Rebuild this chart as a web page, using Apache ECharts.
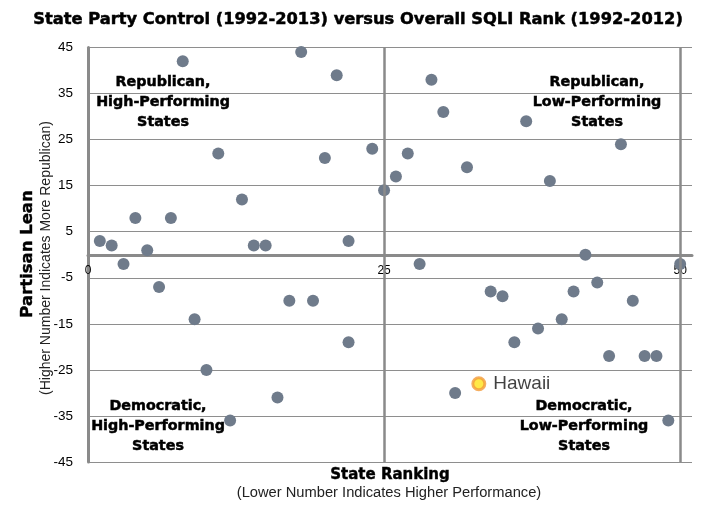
<!DOCTYPE html>
<html>
<head>
<meta charset="utf-8">
<script src="https://cdn.jsdelivr.net/npm/echarts@6/dist/echarts.min.js"></script>
<style>
html,body{margin:0;padding:0;background:#fff;}
#chart{width:707px;height:513px;}
</style>
</head>
<body>
<div id="chart"></div>
<script>
// SQLI rank (x) and partisan lean (y) for each state
const stateRank = [1,2,3,4,5,6,7,8,9,10,11,12,13,14,15,16,17,18,19,20,21,22,22,24,25,26,27,28,29,30,31,32,34,35,36,37,38,39,40,41,42,43,44,45,46,47,48,49,50];
const partisanLean = [3,2,-2,8,1,-7,8,42,-14,-25,22,-36,12,2,2,-31,-10,44,-10,21,39,3,-19,23,14,17,22,-2,38,31,-30,19,-8,-9,-19,29,-16,16,-14,-8,0,-6,-22,24,-10,-22,-22,-36,-2];
const hawaiiRank = [33];
const hawaiiLean = [-28];
const hawaiiName = ['Hawaii'];
const xTicks = [0, 25, 50];
const quadrantDividers = [25, 50];

const X_MIN = 0, X_MAX = 51, Y_MIN = -45, Y_MAX = 45;
const GRID = {left: 88, right: 15, top: 47.5, bottom: 51};
const H = 513;
const plotH = H - GRID.top - GRID.bottom;
// move the x axis (line + labels) up to y = 0
const xAxisOffset = -plotH * (0 - Y_MIN) / (Y_MAX - Y_MIN);

const pts = stateRank.map((r, i) => [r, partisanLean[i]]);
const hiPts = hawaiiRank.map((r, i) => [r, hawaiiLean[i], hawaiiName[i]]);

const chart = echarts.init(document.getElementById('chart'));
const BOLD = '"DejaVu Sans"';

chart.setOption({
  animation: false,
  backgroundColor: '#fff',
  grid: Object.assign({containLabel: false}, GRID),
  xAxis: {
    type: 'value', min: X_MIN, max: X_MAX, interval: 25,
    position: 'bottom', offset: xAxisOffset,
    axisLine: {show: true, onZero: false, lineStyle: {color: '#8a8a8a', width: 3}},
    axisTick: {show: false},
    splitLine: {show: false},
    axisLabel: {
      showMaxLabel: false, margin: 10, fontSize: 12, color: '#000',
      fontFamily: 'Liberation Sans',
      formatter: v => (xTicks.indexOf(v) >= 0 ? String(v) : '')
    }
  },
  yAxis: {
    type: 'value', min: Y_MIN, max: Y_MAX, interval: 10,
    axisLine: {show: true, onZero: false, lineStyle: {color: '#8a8a8a', width: 3}},
    axisTick: {show: false},
    splitLine: {show: true, lineStyle: {color: '#8e8e8e', width: 1}},
    axisLabel: {margin: 15, fontSize: 13.5, color: '#000', fontFamily: 'Liberation Sans'}
  },
  series: [
    {
      type: 'scatter',
      data: pts,
      symbolSize: 12,
      itemStyle: {color: '#6f7b8b', opacity: 1},
      markLine: {
        silent: true, symbol: 'none', label: {show: false},
        lineStyle: {color: '#8a8a8a', width: 2.5, type: 'solid'},
        data: quadrantDividers.map(v => ({xAxis: v}))
      },
      z: 3
    },
    {
      type: 'scatter',
      data: hiPts,
      symbolSize: 12,
      itemStyle: {color: '#ffe21a', borderColor: '#f39a3a', borderWidth: 3},
      label: {
        show: true, position: 'right', distance: 7,
        formatter: p => p.data[2],
        fontSize: 19, color: '#111', fontFamily: 'Liberation Sans'
      },
      z: 4
    }
  ],
  graphic: [
    {type: 'text', x: 358, y: 20, style: {text: 'State Party Control (1992-2013) versus Overall SQLI Rank (1992-2012)', font: 'bold 16.3px ' + BOLD, textAlign: 'center', textVerticalAlign: 'middle', fill: '#000', stroke: '#000', lineWidth: 0.5}},
    {type: 'text', x: 28, y: 254, rotation: Math.PI / 2, style: {text: 'Partisan Lean', font: 'bold 16.5px ' + BOLD, textAlign: 'center', textVerticalAlign: 'middle', fill: '#000', stroke: '#000', lineWidth: 0.4}},
    {type: 'text', x: 46, y: 258, rotation: Math.PI / 2, style: {text: '(Higher Number Indicates More Republican)', font: '14px "Liberation Sans"', textAlign: 'center', textVerticalAlign: 'middle', fill: '#222'}},
    {type: 'text', x: 390, y: 475, style: {text: 'State Ranking', font: 'bold 15px ' + BOLD, textAlign: 'center', textVerticalAlign: 'middle', fill: '#000', stroke: '#000', lineWidth: 0.4}},
    {type: 'text', x: 389, y: 493, style: {text: '(Lower Number Indicates Higher Performance)', font: '14.7px "Liberation Sans"', textAlign: 'center', textVerticalAlign: 'middle', fill: '#222'}},
    {type: 'text', x: 163, y: 102, style: {text: 'Republican,\nHigh-Performing\nStates', font: 'bold 14.3px ' + BOLD, lineHeight: 20, textAlign: 'center', textVerticalAlign: 'middle', fill: '#000', stroke: '#000', lineWidth: 0.5}},
    {type: 'text', x: 597, y: 102, style: {text: 'Republican,\nLow-Performing\nStates', font: 'bold 14.3px ' + BOLD, lineHeight: 20, textAlign: 'center', textVerticalAlign: 'middle', fill: '#000', stroke: '#000', lineWidth: 0.5}},
    {type: 'text', x: 158, y: 426, style: {text: 'Democratic,\nHigh-Performing\nStates', font: 'bold 14.3px ' + BOLD, lineHeight: 20, textAlign: 'center', textVerticalAlign: 'middle', fill: '#000', stroke: '#000', lineWidth: 0.5}},
    {type: 'text', x: 584, y: 426, style: {text: 'Democratic,\nLow-Performing\nStates', font: 'bold 14.3px ' + BOLD, lineHeight: 20, textAlign: 'center', textVerticalAlign: 'middle', fill: '#000', stroke: '#000', lineWidth: 0.5}}
  ]
});
</script>
</body>
</html>
